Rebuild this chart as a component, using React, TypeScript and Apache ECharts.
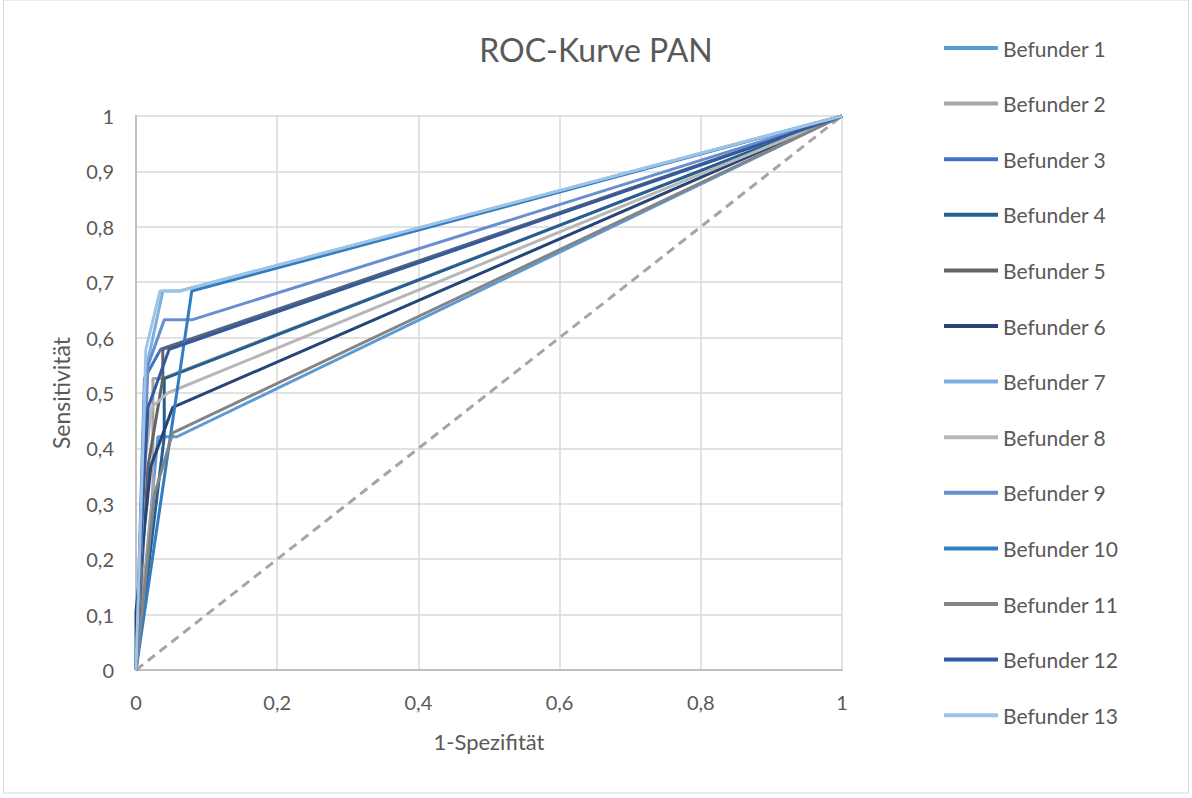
import React, { useEffect, useRef } from "react";
import * as echarts from "echarts";

const titleText = "ROC-Kurve PAN";
const xAxisName = "1-Spezifität";
const yAxisName = "Sensitivität";

const seriesNames = [
  "Befunder 1", "Befunder 2", "Befunder 3", "Befunder 4", "Befunder 5",
  "Befunder 6", "Befunder 7", "Befunder 8", "Befunder 9", "Befunder 10",
  "Befunder 11", "Befunder 12", "Befunder 13",
];
const seriesColors = [
  "#5B9BD5", "#A5A5A5", "#4472C4", "#255E91", "#636363",
  "#264478", "#7CAFDD", "#B7B7B7", "#698ED0", "#327DC2",
  "#848484", "#335AA1", "#9DC3E6",
];

// 1-Spezifität (x) and Sensitivität (y) per Befunder
const b1X = [0, 0.031, 0.058, 1];
const b1Y = [0, 0.421, 0.421, 1];
const b2X = [0, 0.024, 0.024, 0.037, 1];
const b2Y = [0, 0.316, 0.526, 0.526, 1];
const b3X = [0, 0.012, 0.035, 1];
const b3Y = [0, 0.526, 0.579, 1];
const b4X = [0, 0.04, 0.04, 1];
const b4Y = [0, 0.421, 0.526, 1];
const b5X = [0, 0.017, 0.038, 0.038, 1];
const b5Y = [0, 0.368, 0.526, 0.579, 1];
const b6X = [0, 0, 0.021, 0.052, 1];
const b6Y = [0, 0.105, 0.368, 0.474, 1];
const b7X = [0, 0.016, 0.038, 0.062, 1];
const b7Y = [0, 0.553, 0.684, 0.684, 1];
const b8X = [0, 0.012, 0.022, 0.045, 1];
const b8Y = [0, 0.368, 0.474, 0.5, 1];
const b9X = [0, 0.017, 0.04, 0.079, 1];
const b9Y = [0, 0.55, 0.632, 0.632, 1];
const b10X = [0, 0.079, 1];
const b10Y = [0, 0.684, 1];
const b11X = [0, 0.026, 0.052, 1];
const b11Y = [0, 0.316, 0.428, 1];
const b12X = [0, 0.008, 0.017, 0.047, 1];
const b12Y = [0, 0.263, 0.474, 0.579, 1];
const b13X = [0, 0.014, 0.034, 0.062, 1];
const b13Y = [0, 0.579, 0.684, 0.684, 1];

const diagonalX = [0, 1];
const diagonalY = [0, 1];

const allX = [b1X, b2X, b3X, b4X, b5X, b6X, b7X, b8X, b9X, b10X, b11X, b12X, b13X];
const allY = [b1Y, b2Y, b3Y, b4Y, b5Y, b6Y, b7Y, b8Y, b9Y, b10Y, b11Y, b12Y, b13Y];

const FONT = "Lato";
const TXT = "#595959";

const pairs = (xs: number[], ys: number[]) => xs.map((x, i) => [x, ys[i]]);
const fmt = (v: number) => String(+(+v).toFixed(1)).replace(".", ",");

export default function App() {
  const ref = useRef<HTMLDivElement>(null);
  useEffect(() => {
    if (!ref.current) return;
    const chart = echarts.init(ref.current, undefined, { renderer: "svg" });
    const series: any[] = [
      {
        name: "Diagonale",
        type: "line",
        data: pairs(diagonalX, diagonalY),
        showSymbol: false,
        symbol: "none",
        lineStyle: { color: "#A5A5A5", width: 3, type: [9, 6] },
        z: 1,
      },
      ...seriesNames.map((name, i) => ({
        name,
        type: "line",
        data: pairs(allX[i], allY[i]),
        showSymbol: false,
        symbol: "none",
        lineStyle: { color: seriesColors[i], width: 3 },
        itemStyle: { color: seriesColors[i] },
        z: 2 + i,
      })),
    ];
    chart.setOption({
      animation: false,
      backgroundColor: "#ffffff",
      title: {
        text: titleText,
        left: "center",
        top: 28,
        textStyle: { fontFamily: FONT, fontSize: 32, fontWeight: "normal", color: TXT },
      },
      legend: {
        data: seriesNames,
        orient: "vertical",
        left: 939,
        top: 32,
        icon: "rect",
        itemWidth: 54,
        itemHeight: 4,
        itemGap: 33.6,
        textStyle: { fontFamily: FONT, fontSize: 21, color: TXT, lineHeight: 22 },
      },
      grid: { left: 136, right: 350, top: 116, bottom: 128, containLabel: false },
      xAxis: {
        type: "value",
        min: 0,
        max: 1,
        interval: 0.2,
        name: xAxisName,
        nameLocation: "middle",
        nameGap: 60,
        nameTextStyle: { fontFamily: FONT, fontSize: 22, color: TXT },
        axisLine: { show: true, lineStyle: { color: "#BFBFBF", width: 2 } },
        axisTick: { show: false },
        axisLabel: { fontFamily: FONT, fontSize: 20, color: TXT, margin: 22, formatter: fmt },
        splitLine: { show: true, lineStyle: { color: "#D9D9D9", width: 1.5 } },
      },
      yAxis: {
        type: "value",
        min: 0,
        max: 1,
        interval: 0.1,
        name: yAxisName,
        nameLocation: "middle",
        nameGap: 64,
        nameTextStyle: { fontFamily: FONT, fontSize: 23, color: TXT },
        axisLine: { show: true, lineStyle: { color: "#BFBFBF", width: 2 } },
        axisTick: { show: false },
        axisLabel: { fontFamily: FONT, fontSize: 20, color: TXT, margin: 22, formatter: fmt },
        splitLine: { show: true, lineStyle: { color: "#D9D9D9", width: 1.5 } },
      },
      graphic: [
        {
          type: "rect",
          shape: { x: 3.5, y: 0, width: 1185, height: 793 },
          style: { fill: "none", stroke: "#D9D9D9", lineWidth: 1 },
          silent: true,
        },
      ],
      series,
    });
    return () => chart.dispose();
  }, []);
  return (
    <div
      ref={ref}
      style={{ position: "absolute", left: 0, top: 0, width: 1192, height: 798 }}
    />
  );
}
